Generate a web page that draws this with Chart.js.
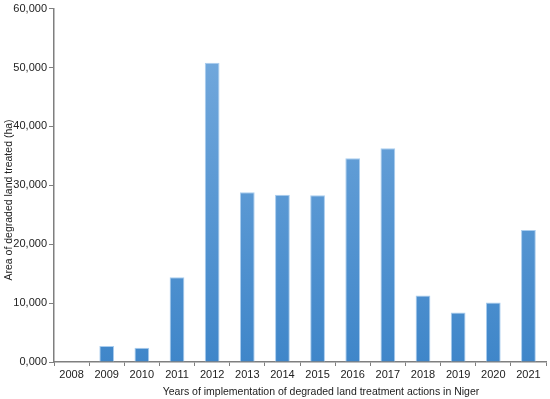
<!DOCTYPE html>
<html>
<head>
<meta charset="utf-8">
<script src="https://cdn.jsdelivr.net/npm/chart.js@4/dist/chart.umd.min.js"></script>
<style>
  html, body { margin: 0; padding: 0; background: #ffffff; }
  #wrap { width: 550px; height: 399px; }
</style>
</head>
<body>
<div id="wrap"><canvas id="c" width="550" height="399"></canvas></div>
<script>
const categories = ['2008', '2009', '2010', '2011', '2012', '2013', '2014', '2015', '2016', '2017', '2018', '2019', '2020', '2021'];
const areaTreated = [0, 2700, 2400, 14400, 50800, 28800, 28400, 28300, 34600, 36300, 11300, 8400, 10100, 22400];
const yTickValues = [0, 10000, 20000, 30000, 40000, 50000, 60000];
const xTitle = 'Years of implementation of degraded land treatment actions in Niger';
const yTitle = 'Area of degraded land treated (ha)';

const FONT = '"Liberation Sans", Arial, sans-serif';
Chart.defaults.font.family = FONT;
Chart.defaults.color = '#222222';

function barGradient(ctx) {
  const chart = ctx.chart;
  const area = chart.chartArea;
  if (!area) return '#5b9bd5';
  const g = chart.ctx.createLinearGradient(0, area.top, 0, area.bottom);
  g.addColorStop(0, '#79addf');
  g.addColorStop(1, '#3f86c9');
  return g;
}

// Draws the two axis titles at the positions they have in the reference.
const axisTitles = {
  id: 'axisTitles',
  afterDraw(chart) {
    const ctx = chart.ctx;
    ctx.save();
    ctx.fillStyle = '#222222';
    ctx.font = '10.5px ' + FONT;
    ctx.textAlign = 'center';
    ctx.textBaseline = 'alphabetic';
    ctx.fillText(xTitle, 321, 395);
    ctx.translate(9, 200);
    ctx.rotate(-Math.PI / 2);
    ctx.textBaseline = 'middle';
    ctx.fillText(yTitle, 0, 0);
    ctx.restore();
  }
};

new Chart(document.getElementById('c'), {
  type: 'bar',
  data: {
    labels: categories,
    datasets: [{
      data: areaTreated,
      backgroundColor: barGradient,
      borderColor: '#a9cdef',
      borderWidth: 1,
      categoryPercentage: 1.0,
      barPercentage: 0.42
    }]
  },
  plugins: [axisTitles],
  options: {
    responsive: false,
    animation: false,
    devicePixelRatio: 1,
    layout: { padding: { top: 8, right: 4, left: 0, bottom: 0 } },
    plugins: { legend: { display: false }, tooltip: { enabled: false } },
    scales: {
      x: {
        grid: { display: true, drawOnChartArea: false, drawTicks: true, tickLength: 4, color: '#7f7f7f', offset: true },
        border: { display: true, color: '#7f7f7f', width: 1.5 },
        ticks: { padding: 2, font: { size: 11 }, color: '#222222', maxRotation: 0, autoSkip: false },
        title: { display: false },
        afterFit: (s) => { s.height = 37; }
      },
      y: {
        min: 0,
        max: 60000,
        afterBuildTicks: (s) => { s.ticks = yTickValues.map(v => ({ value: v })); },
        grid: { display: true, drawOnChartArea: false, drawTicks: true, tickLength: 5, color: '#7f7f7f' },
        border: { display: true, color: '#7f7f7f', width: 1.5 },
        ticks: {
          padding: 2,
          font: { size: 11 },
          color: '#222222',
          callback: (v) => v === 0 ? '0,000' : v.toLocaleString('en-US')
        },
        title: { display: false },
        afterFit: (s) => { s.width = 54; }
      }
    }
  }
});
</script>
</body>
</html>
